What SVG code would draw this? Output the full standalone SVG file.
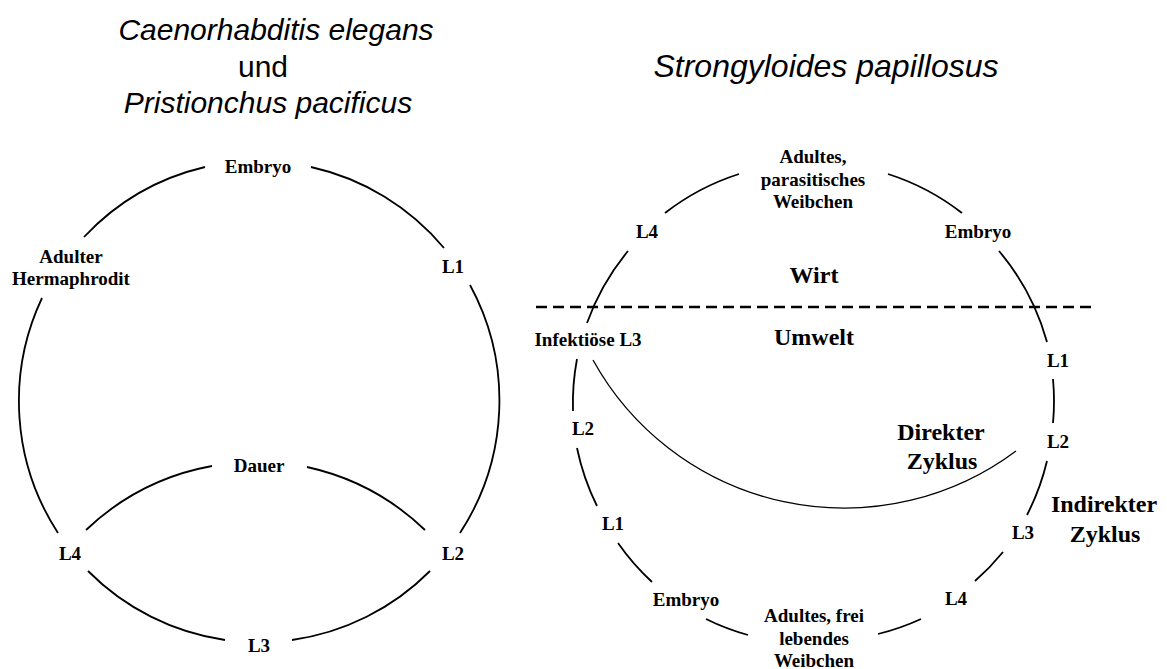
<svg xmlns="http://www.w3.org/2000/svg" width="1167" height="669" viewBox="0 0 1167 669">
<style>
.t{font-family:"Liberation Serif","Times New Roman",serif;font-weight:bold;font-size:19px;text-anchor:middle;fill:#000}
.b{font-family:"Liberation Serif","Times New Roman",serif;font-weight:bold;font-size:24px;text-anchor:middle;fill:#000}
.h{font-family:"Liberation Sans",Arial,sans-serif;font-style:italic;font-size:30px;text-anchor:middle;fill:#000}
.u{font-family:"Liberation Sans",Arial,sans-serif;font-size:30px;text-anchor:middle;fill:#000}
.a{fill:none;stroke:#000;stroke-width:1.8}
.d{fill:none;stroke:#000;stroke-width:1.3}
</style>
<rect width="1167" height="669" fill="#fff"/>
<g id="titles">
<text class="h" x="276" y="40">Caenorhabditis elegans</text>
<text class="u" x="263" y="77">und</text>
<text class="h" x="268" y="113">Pristionchus pacificus</text>
<text class="h" x="826" y="77" style="font-size:32px">Strongyloides papillosus</text>
</g>
<g id="connectors">
<path class="a" d="M311 167 A242 242 0 0 1 444 248"/>
<path class="a" d="M470 285 A242 242 0 0 1 460 533"/>
<path class="a" d="M430 571 A242 242 0 0 1 292 640"/>
<path class="a" d="M225 640 A242 242 0 0 1 88 571"/>
<path class="a" d="M58 533 A242 242 0 0 1 42 298"/>
<path class="a" d="M84 237 A242 242 0 0 1 205 167"/>
<path class="a" d="M86 530 A247 247 0 0 1 212 466"/>
<path class="a" d="M307 467 A247 247 0 0 1 425 530"/>
<path class="a" d="M888 174 A240 240 0 0 1 962 213"/>
<path class="a" d="M999 251 A240 240 0 0 1 1047 342"/>
<path class="a" d="M1053 379 A240 240 0 0 1 1053 423"/>
<path class="a" d="M1047 461 A240 240 0 0 1 1027 515"/>
<path class="a" d="M1003 552 A240 240 0 0 1 975 581"/>
<path class="a" d="M921 619 A240 240 0 0 1 878 634"/>
<path class="a" d="M748 635 A240 240 0 0 1 706 619"/>
<path class="a" d="M652 582 A240 240 0 0 1 618 543"/>
<path class="a" d="M597 506 A240 240 0 0 1 577 448"/>
<path class="a" d="M573 411 A240 240 0 0 1 577 359"/>
<path class="a" d="M587 323 A240 240 0 0 1 628 251"/>
<path class="a" d="M665 213 A240 240 0 0 1 739 174"/>
<path class="d" d="M593 360 A287 287 0 0 0 1016 451"/>
<line x1="536" y1="307" x2="1097" y2="307" stroke="#000" stroke-width="2.5" stroke-dasharray="11 6"/>
</g>
<g id="left-embryo"><text class="t" x="258" y="173">Embryo</text></g>
<g id="left-l1"><text class="t" x="453" y="273">L1</text></g>
<g id="left-adult"><text class="t" x="71" y="263">Adulter</text><text class="t" x="71" y="285">Hermaphrodit</text></g>
<g id="left-dauer"><text class="t" x="259" y="472">Dauer</text></g>
<g id="left-l4"><text class="t" x="70" y="560">L4</text></g>
<g id="left-l2"><text class="t" x="453" y="560">L2</text></g>
<g id="left-l3"><text class="t" x="259" y="652">L3</text></g>
<g id="right-parasitic"><text class="t" x="813" y="163">Adultes,</text><text class="t" x="813" y="186">parasitisches</text><text class="t" x="813" y="208">Weibchen</text></g>
<g id="right-l4-top"><text class="t" x="647" y="238">L4</text></g>
<g id="right-embryo-top"><text class="t" x="978" y="238">Embryo</text></g>
<g id="wirt"><text class="b" x="814" y="283">Wirt</text></g>
<g id="umwelt"><text class="b" x="814" y="345">Umwelt</text></g>
<g id="right-infl3"><text class="t" x="588" y="346">Infektiöse L3</text></g>
<g id="right-l1-r"><text class="t" x="1058" y="367">L1</text></g>
<g id="right-l2-l"><text class="t" x="583" y="435">L2</text></g>
<g id="right-l2-r"><text class="t" x="1058" y="448">L2</text></g>
<g id="direkt"><text class="b" x="941" y="440">Direkter</text><text class="b" x="942" y="469">Zyklus</text></g>
<g id="indirekt"><text class="b" x="1104" y="512">Indirekter</text><text class="b" x="1105" y="542">Zyklus</text></g>
<g id="right-l1-l"><text class="t" x="613" y="530">L1</text></g>
<g id="right-l3-r"><text class="t" x="1023" y="539">L3</text></g>
<g id="right-embryo-bot"><text class="t" x="686" y="606">Embryo</text></g>
<g id="right-l4-bot"><text class="t" x="956" y="605">L4</text></g>
<g id="right-free"><text class="t" x="814" y="622">Adultes, frei</text><text class="t" x="814" y="645">lebendes</text><text class="t" x="814" y="667">Weibchen</text></g>
</svg>
